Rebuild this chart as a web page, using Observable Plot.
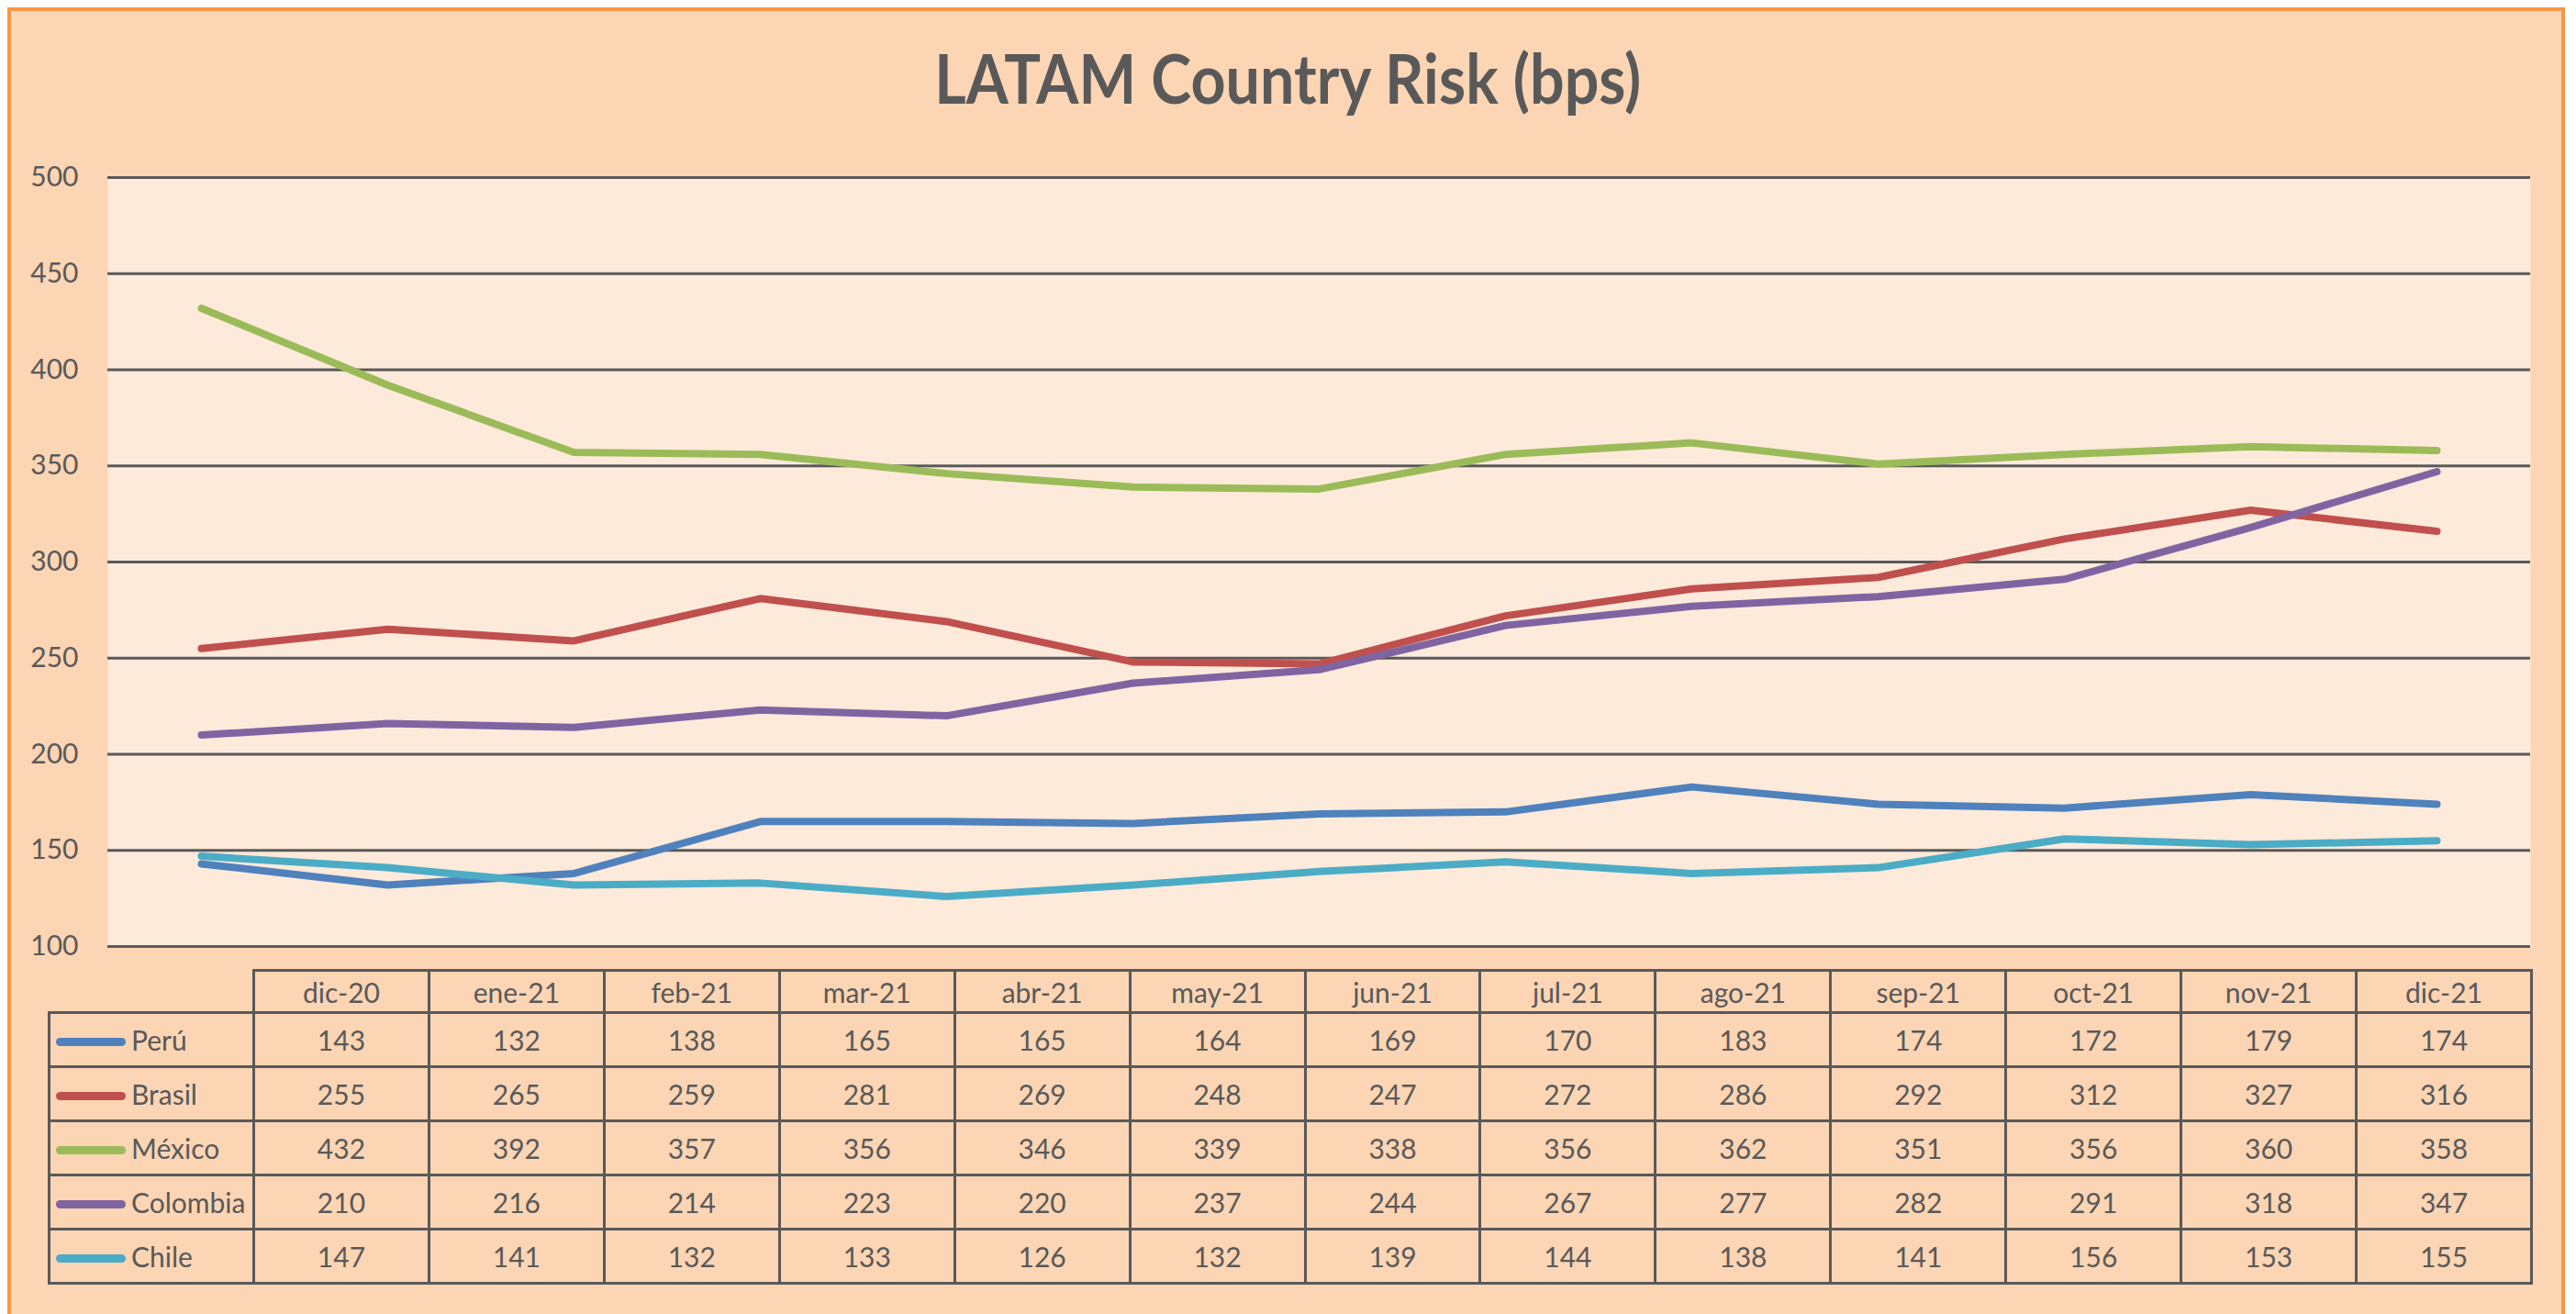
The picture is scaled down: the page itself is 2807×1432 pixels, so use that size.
<!DOCTYPE html>
<html>
<head>
<meta charset="utf-8">
<script src="https://cdn.jsdelivr.net/npm/d3@7"></script>
<script src="https://cdn.jsdelivr.net/npm/@observablehq/plot@0.6"></script>
<style>
  html, body { margin: 0; padding: 0; background: #ffffff; }
  #frame { position: relative; width: 2807px; height: 1432px; overflow: hidden; font-family: Lato, "Open Sans", sans-serif; color: #595959; }
  #border { position: absolute; left: 8px; top: 8px; width: 2787px; height: 1440px; border: 4px solid #F79646; background: #FCD5B4; box-sizing: border-box; }
  #title { position: absolute; left: 0; top: 48px; width: 2807px; text-align: center; font-size: 74px; font-weight: 700; line-height: 1; white-space: nowrap; }
  #title span { display: inline-block; transform-origin: center center; }
  #chart { position: absolute; left: 0; top: 150px; }
  #tbl { position: absolute; left: 52px; top: 1056px; border-collapse: collapse; table-layout: fixed; font-size: 30px; color: #595959; }
  #tbl td { border: 3px solid #595959; text-align: center; padding: 0; }
  #tbl tr.head td { height: 43px; }
  #tbl tr.row td { height: 56px; }
  #tbl td.blank { border: none; }
  #tbl td.leg { text-align: left; white-space: nowrap; }
  .sw { display: inline-block; width: 76px; height: 9px; border-radius: 5px; margin-left: 6px; margin-right: 6px; vertical-align: middle; position: relative; top: -2px; }
</style>
</head>
<body>
<div id="frame">
  <div id="border"></div>
  <div id="title"><span id="titleText">LATAM Country Risk (bps)</span></div>
  <div id="chart"></div>
  <table id="tbl"></table>
</div>
<script>
// ---- data ----
const months = ["dic-20","ene-21","feb-21","mar-21","abr-21","may-21","jun-21","jul-21","ago-21","sep-21","oct-21","nov-21","dic-21"];
const countries = ["Perú","Brasil","México","Colombia","Chile"];
const peru     = [143,132,138,165,165,164,169,170,183,174,172,179,174];
const brasil   = [255,265,259,281,269,248,247,272,286,292,312,327,316];
const mexico   = [432,392,357,356,346,339,338,356,362,351,356,360,358];
const colombia = [210,216,214,223,220,237,244,267,277,282,291,318,347];
const chile    = [147,141,132,133,126,132,139,144,138,141,156,153,155];
const yTicks   = [100,150,200,250,300,350,400,450,500];
const colors   = ["#4F81BD","#C0504D","#9BBB59","#8064A2","#4BACC6"];

const series = [peru, brasil, mexico, colombia, chile];
const rows = [];
series.forEach((vals, i) => vals.forEach((v, j) => rows.push({country: countries[i], month: months[j], value: v})));

// ---- title width fit ----
const tt = document.getElementById("titleText");
const w = tt.getBoundingClientRect().width;
tt.style.transform = `scaleX(${770 / w})`;

// ---- chart ----
const chart = Plot.plot({
  width: 2807,
  height: 890,
  marginTop: 43,
  marginBottom: 9,
  marginLeft: 117,
  marginRight: 50,
  style: { background: "transparent", fontFamily: "Lato, 'Open Sans', sans-serif", color: "#595959", fontSize: "30px", overflow: "visible" },
  x: { type: "point", domain: months, padding: 0.5, axis: null },
  y: { domain: [100, 500] },
  color: { domain: countries, range: colors },
  marks: [
    Plot.frame({ fill: "#FDEADA", stroke: null }),
    Plot.ruleY(yTicks, { stroke: "#595959", strokeWidth: 3, strokeOpacity: 1 }),
    Plot.axisY(yTicks, { tickSize: 0, tickPadding: 32, fontSize: 30, fill: "#595959", label: null }),
    Plot.line(rows, { x: "month", y: "value", z: "country", stroke: "country", strokeWidth: 8, strokeLinecap: "round", strokeLinejoin: "round" })
  ]
});
document.getElementById("chart").appendChild(chart);

// ---- data table ----
const tbl = document.getElementById("tbl");
const colgroup = document.createElement("colgroup");
const c0 = document.createElement("col"); c0.style.width = "223px"; colgroup.appendChild(c0);
months.forEach(() => { const c = document.createElement("col"); c.style.width = (2482 / 13) + "px"; colgroup.appendChild(c); });
tbl.appendChild(colgroup);
tbl.style.width = "2705px";
const head = document.createElement("tr"); head.className = "head";
const blank = document.createElement("td"); blank.className = "blank"; head.appendChild(blank);
months.forEach(m => { const td = document.createElement("td"); td.textContent = m; head.appendChild(td); });
tbl.appendChild(head);
series.forEach((vals, i) => {
  const tr = document.createElement("tr"); tr.className = "row";
  const leg = document.createElement("td"); leg.className = "leg";
  const sw = document.createElement("span"); sw.className = "sw"; sw.style.background = colors[i];
  leg.appendChild(sw);
  leg.appendChild(document.createTextNode(countries[i]));
  tr.appendChild(leg);
  vals.forEach(v => { const td = document.createElement("td"); td.textContent = v; tr.appendChild(td); });
  tbl.appendChild(tr);
});
</script>
</body>
</html>
